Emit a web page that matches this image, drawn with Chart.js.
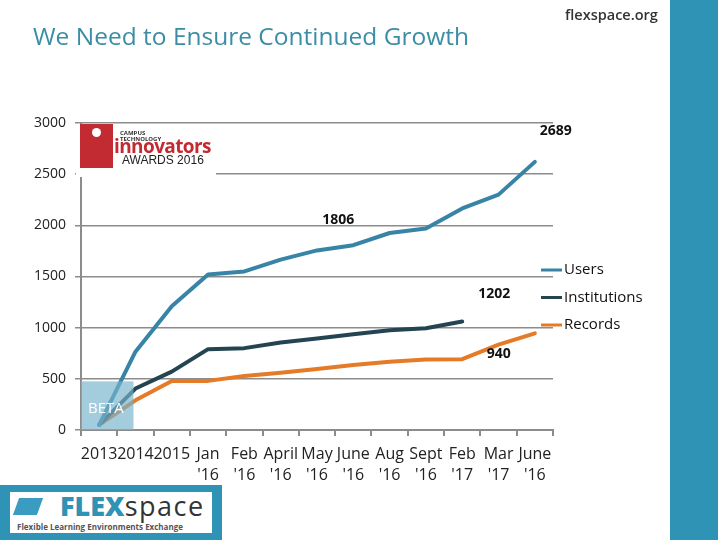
<!DOCTYPE html>
<html>
<head>
<meta charset="utf-8">
<script src="https://cdn.jsdelivr.net/npm/chart.js@4"></script>
<style>
  html, body { margin: 0; padding: 0; background: #fff; }
  #wrap { position: relative; width: 720px; height: 540px; overflow: hidden; font-family: "Open Sans", sans-serif; }
  #chart { position: absolute; left: 0; top: 0; }
  .title { position: absolute; left: 33px; top: 19px; font-size: 24.5px; color: #3b8da6; white-space: nowrap; }
  .site { position: absolute; left: 565px; top: 5px; font-size: 14.5px; font-weight: 600; color: #333; }
  .sidebar { position: absolute; left: 670px; top: 0; width: 48px; height: 540px; background: #2f93b6; }
  .award { position: absolute; left: 76px; top: 125px; width: 140px; height: 52px; background: #fff; }
  .award .red { position: absolute; left: 4px; top: -1px; width: 33px; height: 44px; background: #c22b32; }
  .award .red span { position: absolute; left: 12px; top: 4px; width: 9px; height: 9px; border-radius: 50%; background: #fff; }
  .award .campus { position: absolute; left: 44px; top: 5px; font-size: 6px; font-weight: 700; color: #333; line-height: 6px; }
  .award .inno { position: absolute; left: 38px; top: 8px; font-size: 19px; font-weight: 700; color: #c22b32; letter-spacing: -0.6px; }
  .award .aw { position: absolute; left: 46px; top: 28px; font-size: 12px; font-family: "Liberation Sans", sans-serif; color: #222; }
  .flexlogo { position: absolute; left: 0; top: 485px; width: 222px; height: 55px; background: #2f93b6; }
  .flexlogo .inner { position: absolute; left: 10px; top: 7px; width: 202px; height: 41px; background: #fff; }
  .flexlogo .cube { position: absolute; left: 6px; top: 6px; width: 24px; height: 17px; background: #3a9cc0; transform: skewX(-20deg); }
  .flexlogo .name { position: absolute; left: 50px; top: -2px; font-size: 27px; line-height: 32px; }
  .flexlogo .name b { color: #2f93b6; font-weight: 800; }
  .flexlogo .name span { color: #333; letter-spacing: 1.5px; }
  .flexlogo .sub { position: absolute; left: 7px; top: 29px; font-size: 8px; font-weight: 700; color: #555; white-space: nowrap; }
</style>
</head>
<body>
<div id="wrap">
  <canvas id="chart" width="720" height="540"></canvas>
  <div class="title">We Need to Ensure Continued Growth</div>
  <div class="site">flexspace.org</div>
  <div class="sidebar"></div>
  <div class="award">
    <div class="red"><span></span></div>
    <div class="campus">CAMPUS<br>TECHNOLOGY</div>
    <div class="inno">innovators</div>
    <div class="aw">AWARDS 2016</div>
  </div>
  <div class="flexlogo">
    <div class="inner">
      <div class="cube"></div>
      <div class="name"><b>FLEX</b><span>space</span></div>
      <div class="sub">Flexible Learning Environments Exchange</div>
    </div>
  </div>
</div>
<script>
// Chart data
const categories = ['2013', '2014', '2015', ['Jan', "'16"], ['Feb', "'16"], ['April', "'16"], ['May', "'16"],
    ['June', "'16"], ['Aug', "'16"], ['Sept', "'16"], ['Feb', "'17"], ['Mar', "'17"], ['June', "'16"]];
const users = [50, 765, 1210, 1520, 1550, 1665, 1755, 1806, 1925, 1970, 2165, 2300, 2620];
const institutions = [50, 405, 570, 790, 800, 855, 895, 935, 975, 995, 1060, null, null];
const records = [50, 290, 478, 480, 527, 560, 595, 635, 667, 690, 692, 835, 945];
const yTicks = [0, 500, 1000, 1500, 2000, 2500, 3000];

// value callouts: [dataset, point index, text]
const callouts = [
    [0, 12, '2689'],
    [0, 7, '1806'],
    [1, 10, '1202'],
    [2, 12, '940']
];
const betaLabel = 'BETA';

// Callouts + beta box + legend drawn on top
const extrasPlugin = {
    id: 'extras',
    afterDatasetsDraw(chart) {
        const ctx = chart.ctx;
        const x = chart.scales.x, y = chart.scales.y;
        const area = chart.chartArea;

        // beta shading over first two years
        const bx2 = x.getPixelForValue(1) - 2;
        const by = y.getPixelForValue(475);
        ctx.save();
        ctx.fillStyle = 'rgba(120,180,205,0.68)';
        ctx.fillRect(area.left, by, bx2 - area.left, area.bottom - by);
        ctx.fillStyle = '#fff';
        ctx.font = '15px "Open Sans"';
        ctx.textBaseline = 'middle';
        ctx.fillText(betaLabel, area.left + 7, by + 27);
        ctx.restore();

        // callouts
        const offsets = [[21, -31], [-15, -25], [32, -28], [-36, 21]];
        ctx.save();
        ctx.font = 'bold 14px "Open Sans"';
        ctx.fillStyle = '#111';
        ctx.textAlign = 'center';
        ctx.textBaseline = 'middle';
        callouts.forEach((c, i) => {
            const pt = chart.getDatasetMeta(c[0]).data[c[1]];
            ctx.fillText(c[2], pt.x + offsets[i][0], pt.y + offsets[i][1]);
        });
        ctx.restore();

        // legend
        ctx.save();
        ctx.font = '15px "Open Sans"';
        ctx.textBaseline = 'middle';
        chart.data.datasets.forEach((ds, i) => {
            const ly = 270 + i * 27.5;
            ctx.strokeStyle = ds.borderColor;
            ctx.lineWidth = 3;
            ctx.beginPath();
            ctx.moveTo(541, ly);
            ctx.lineTo(562, ly);
            ctx.stroke();
            ctx.fillStyle = '#111';
            ctx.fillText(ds.label, 564, ly);
        });
        ctx.restore();
    }
};

new Chart(document.getElementById('chart'), {
    type: 'line',
    data: {
        labels: categories,
        datasets: [
            { label: 'Users', data: users, borderColor: '#3784a6', borderWidth: 4 },
            { label: 'Institutions', data: institutions, borderColor: '#244452', borderWidth: 4 },
            { label: 'Records', data: records, borderColor: '#e57a27', borderWidth: 4 }
        ]
    },
    options: {
        responsive: false,
        animation: false,
        spanGaps: false,
        elements: { point: { radius: 0 }, line: { tension: 0, borderCapStyle: 'round', borderJoinStyle: 'round' } },
        layout: { padding: { top: 123, right: 167, left: 30, bottom: 0 } },
        plugins: { legend: { display: false }, tooltip: { enabled: false } },
        scales: {
            y: {
                min: 0,
                max: 3000,
                afterBuildTicks(scale) { scale.ticks = yTicks.map(v => ({ value: v })); },
                afterFit(scale) { scale.width = 51; },
                ticks: { color: '#222', padding: 9, font: { family: 'Open Sans', size: 14 },
                    callback: v => String(v) },
                grid: { color: '#8c8c8c', lineWidth: 1.5, tickLength: 6 },
                border: { display: true, color: '#8c8c8c', width: 2 }
            },
            x: {
                offset: true,
                afterFit(scale) { scale.height = 110; },
                ticks: { color: '#222', maxRotation: 0, autoSkip: false, padding: 8,
                    font: { family: 'Open Sans', size: 16, lineHeight: 1.3 } },
                grid: { offset: true, drawOnChartArea: false, color: '#8c8c8c', lineWidth: 2, tickLength: 6 },
                border: { display: true, color: '#8c8c8c', width: 2 }
            }
        }
    },
    plugins: [extrasPlugin]
});
</script>
</body>
</html>
